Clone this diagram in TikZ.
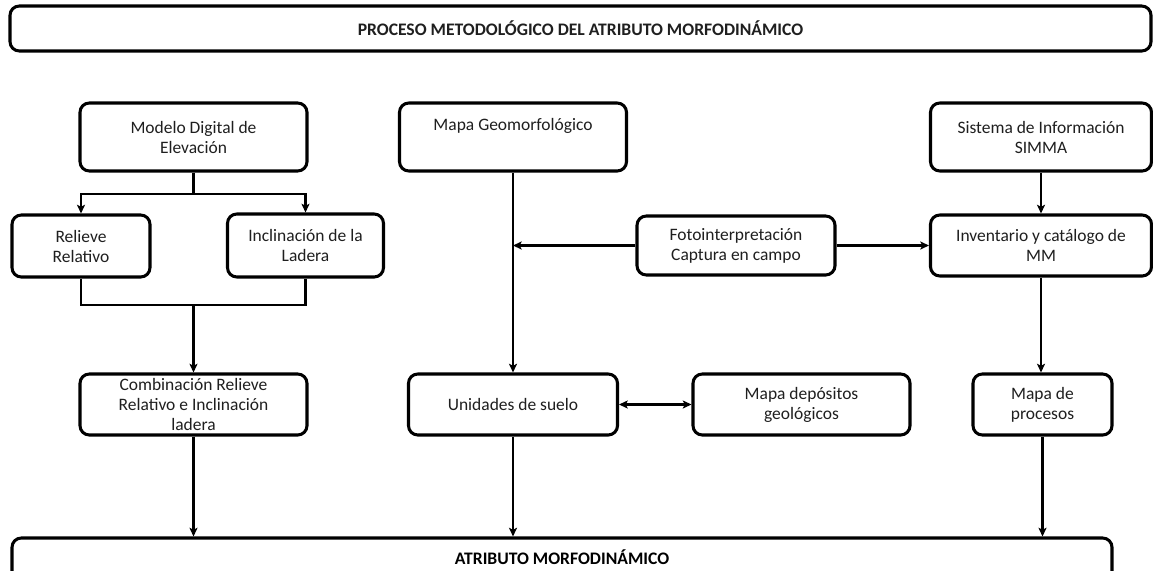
\documentclass[tikz,border=0pt]{standalone}
\usepackage{fontspec}
\setmainfont{Carlito}
\usetikzlibrary{arrows.meta}
\begin{document}
\begin{tikzpicture}[x=0.75pt,y=-0.75pt,
  box/.style={draw=black, line width=2.3pt, rounded corners=7pt, fill=white,
    align=center, inner sep=1pt, text=black!88,
    font=\fontsize{13.1pt}{15pt}\selectfont},
  conn/.style={draw=black, line width=1.9pt},
  arr/.style={conn, -{Stealth[length=6.5pt,width=6pt,inset=1.5pt]}},
  darr/.style={conn, {Stealth[length=6.5pt,width=6pt,inset=1.5pt]}-{Stealth[length=6.5pt,width=6pt,inset=1.5pt]}},
  ttl/.style={font=\fontsize{13.2pt}{15pt}\selectfont\bfseries, text=black}
]
\useasboundingbox (0,0) rectangle (1153,571);
\clip (0,0) rectangle (1153,571);
\fill[white] (0,0) rectangle (1153,571);

% title
\node[box, minimum width=1141*0.75pt, minimum height=45*0.75pt, inner sep=0pt] (title) at (580.5,28.5)
  {\fontsize{13.2pt}{15pt}\selectfont\bfseries PROCESO METODOLÓGICO DEL ATRIBUTO MORFODINÁMICO};

% top row
\node[box, minimum width=227*0.75pt, minimum height=68*0.75pt] (mde) at (193.5,137) {Modelo Digital de\\Elevación};
\node[box, minimum width=227*0.75pt, minimum height=68*0.75pt] (geo) at (513,137) {Mapa Geomorfológico\\\strut};
\node[box, minimum width=221*0.75pt, minimum height=68*0.75pt] (simma) at (1041,137) {Sistema de Información\\SIMMA};

% second row
\node[box, minimum width=138*0.75pt, minimum height=62*0.75pt] (rel) at (81,246) {Relieve\\Relativo};
\node[box, minimum width=156*0.75pt, minimum height=63*0.75pt] (inc) at (305.5,245.5) {Inclinación de la\\Ladera};
\node[box, minimum width=198*0.75pt, minimum height=59*0.75pt] (foto) at (736,245.5) {Fotointerpretación\\Captura en campo};
\node[box, minimum width=221*0.75pt, minimum height=61*0.75pt] (inv) at (1041,245.5) {Inventario y catálogo de\\MM};

% third row
\node[box, minimum width=227*0.75pt, minimum height=61*0.75pt, inner sep=0pt] (comb) at (193.5,404.5) {Combinación Relieve\\Relativo e Inclinación\\ladera};
\node[box, minimum width=209*0.75pt, minimum height=61*0.75pt] (unid) at (513,404.5) {Unidades de suelo};
\node[box, minimum width=217*0.75pt, minimum height=61*0.75pt] (dep) at (801.5,404.5) {Mapa depósitos\\geológicos};
\node[box, minimum width=139*0.75pt, minimum height=61*0.75pt] (proc) at (1042.5,404.5) {Mapa de\\procesos};

% bottom
\node[box, minimum width=1100*0.75pt, minimum height=62*0.75pt,
  label={[ttl, yshift=9pt]center:ATRIBUTO MORFODINÁMICO}] (bot) at (562,569) {};

% connectors
\coordinate (split) at (193.5,194);
\coordinate (merge) at (193.5,305);
\draw[conn] (mde.south) -- (split);
\draw[arr] (split) -| (rel.north);
\draw[arr] (split) -| (inc.north);
\draw[conn] (rel.south) |- (merge) -| (inc.south);
\draw[arr] (merge) -- (comb.north);
\draw[arr] (comb.south) -- (comb.south |- bot.north);

\draw[arr] (geo.south) -- (unid.north);
\draw[arr] (foto.west) -- (foto.west -| geo.south);
\draw[arr] (foto.east) -- (inv.west);
\draw[arr] (simma.south) -- (inv.north);
\draw[arr] (inv.south) -- (inv.south |- proc.north);
\draw[darr] (unid.east) -- (dep.west);
\draw[arr] (unid.south) -- (unid.south |- bot.north);
\draw[arr] (proc.south) -- (proc.south |- bot.north);
\end{tikzpicture}
\end{document}
